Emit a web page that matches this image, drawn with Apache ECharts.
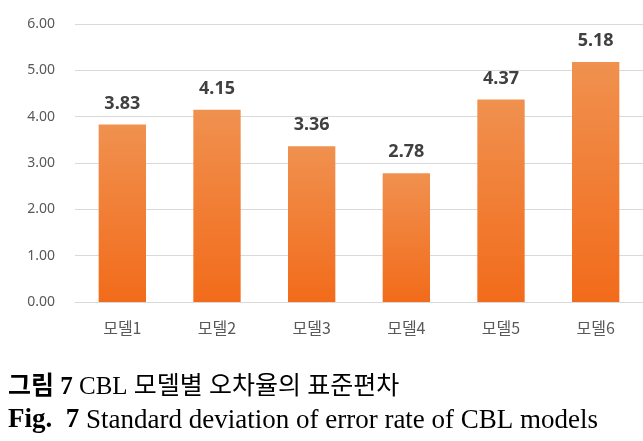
<!DOCTYPE html>
<html><head><meta charset="utf-8">
<script src="https://cdn.jsdelivr.net/npm/echarts@6/dist/echarts.min.js"></script>
<style>html,body{margin:0;padding:0;background:#fff}#c{width:643px;height:441px}</style>
</head><body><div id="c"></div>
<script>
const categories = ['모델1','모델2','모델3','모델4','모델5','모델6'];
const values = [3.83, 4.15, 3.36, 2.78, 4.37, 5.18];
const yTicks = [0, 1, 2, 3, 4, 5, 6];
const captionKo = ['그림 7', ' CBL 모델별 오차율의 표준편차'];
const captionEn = ['Fig.  7', ' Standard deviation of error rate of CBL models'];

const chart = echarts.init(document.getElementById('c'), null, {renderer:'canvas'});
chart.setOption({
  animation:false,
  backgroundColor:'#fff',
  grid:{left:75, right:0, top:24, bottom:139},
  xAxis:{type:'category', data:categories,
    axisLine:{lineStyle:{color:'#d9d9d9'}}, axisTick:{show:false},
    axisLabel:{color:'#595959', fontSize:16, margin:18, fontFamily:'Noto Sans CJK KR'}},
  yAxis:{type:'value', min:yTicks[0], max:yTicks[yTicks.length-1], interval:1,
    axisLine:{show:false}, axisTick:{show:false},
    splitLine:{lineStyle:{color:'#d9d9d9'}},
    axisLabel:{color:'#595959', fontSize:14, margin:20, fontFamily:'Noto Sans', formatter:v=>v.toFixed(2)}},
  series:[{type:'bar', data:values, barWidth:'50%',
    itemStyle:{color:new echarts.graphic.LinearGradient(0,0,0,1,[{offset:0,color:'#F0914F'},{offset:1,color:'#F26B1B'}])},
    label:{show:true, position:'top', distance:12, color:'#404040', fontSize:18, fontWeight:'bold', fontFamily:'Noto Sans', formatter:p=>p.value.toFixed(2)}}],
  graphic:[
    {type:'text', left:8, top:375, style:{text:'{b|'+captionKo[0]+'}{n|'+captionKo[1]+'}',
      rich:{b:{fontSize:25, fontWeight:'bold', fontFamily:'Liberation Serif, Noto Sans CJK KR', fill:'#000'},
            n:{fontSize:25, fontFamily:'Liberation Serif, Noto Sans CJK KR', fill:'#000'}}}},
    {type:'text', left:8, top:407, style:{text:'{b|'+captionEn[0]+'}{n|'+captionEn[1]+'}',
      rich:{b:{fontSize:27, fontWeight:'bold', fontFamily:'Liberation Serif', fill:'#000'},
            n:{fontSize:27, fontFamily:'Liberation Serif', fill:'#000'}}}}
  ]
});
</script></body></html>
